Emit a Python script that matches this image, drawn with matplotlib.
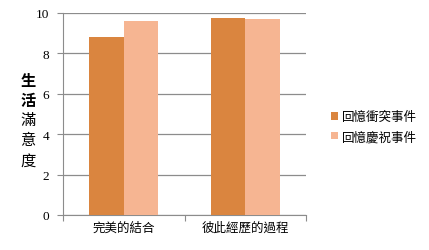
import numpy as np
import matplotlib.pyplot as plt

categories = ["完美的結合", "彼此經歷的過程"]
series_names = ["回憶衝突事件", "回憶慶祝事件"]
conflict = [8.8, 9.75]
celebrate = [9.6, 9.7]
yticks = [0, 2, 4, 6, 8, 10]

colors = ["#DA853F", "#F6B592"]
cjk = ["Noto Sans CJK TC", "DejaVu Sans"]

fig = plt.figure(figsize=(4.29, 2.51), dpi=100)
ax = fig.add_axes([63 / 429, 35 / 251, 243 / 429, 202 / 251])

x = np.arange(len(categories))
w = 0.285
ax.bar(x - w / 2, conflict, w, color=colors[0], label=series_names[0], zorder=3)
ax.bar(x + w / 2, celebrate, w, color=colors[1], label=series_names[1], zorder=3)

ax.set_xlim(-0.5, 1.5)
ax.set_ylim(0, 10)
ax.set_yticks(yticks)
ax.set_yticklabels([str(t) for t in yticks], family="Liberation Serif", fontsize=9.5)
ax.yaxis.grid(True, color="#8C8C8C", linewidth=0.9, zorder=0)
ax.tick_params(axis="y", length=4, color="#8C8C8C", pad=6)

ax.set_xticks([-0.5, 0.5, 1.5])
ax.set_xticklabels([])
ax.set_xticks(x, minor=True)
ax.set_xticklabels(categories, minor=True, family=cjk, fontsize=9)
ax.tick_params(axis="x", which="major", length=4, color="#8C8C8C")
ax.tick_params(axis="x", which="minor", length=0, pad=4)

for s in ["top", "right"]:
    ax.spines[s].set_visible(False)
for s in ["left", "bottom"]:
    ax.spines[s].set_color("#8C8C8C")

# vertical y label: first two chars bold
label = "生活滿意度"
for i, ch in enumerate(label):
    fig.text(28 / 429, 1 - (81 + i * 20) / 251, ch, family=cjk, fontsize=11,
             fontweight="bold" if i < 2 else "normal", ha="center", va="center")

fig.legend(loc="upper left", bbox_to_anchor=(320 / 429, 1 - 100 / 251),
           frameon=False, prop={"family": cjk, "size": 9},
           handlelength=0.55, handleheight=0.55, handletextpad=0.3, labelspacing=0.55)

fig.savefig("out.png", dpi=100)
